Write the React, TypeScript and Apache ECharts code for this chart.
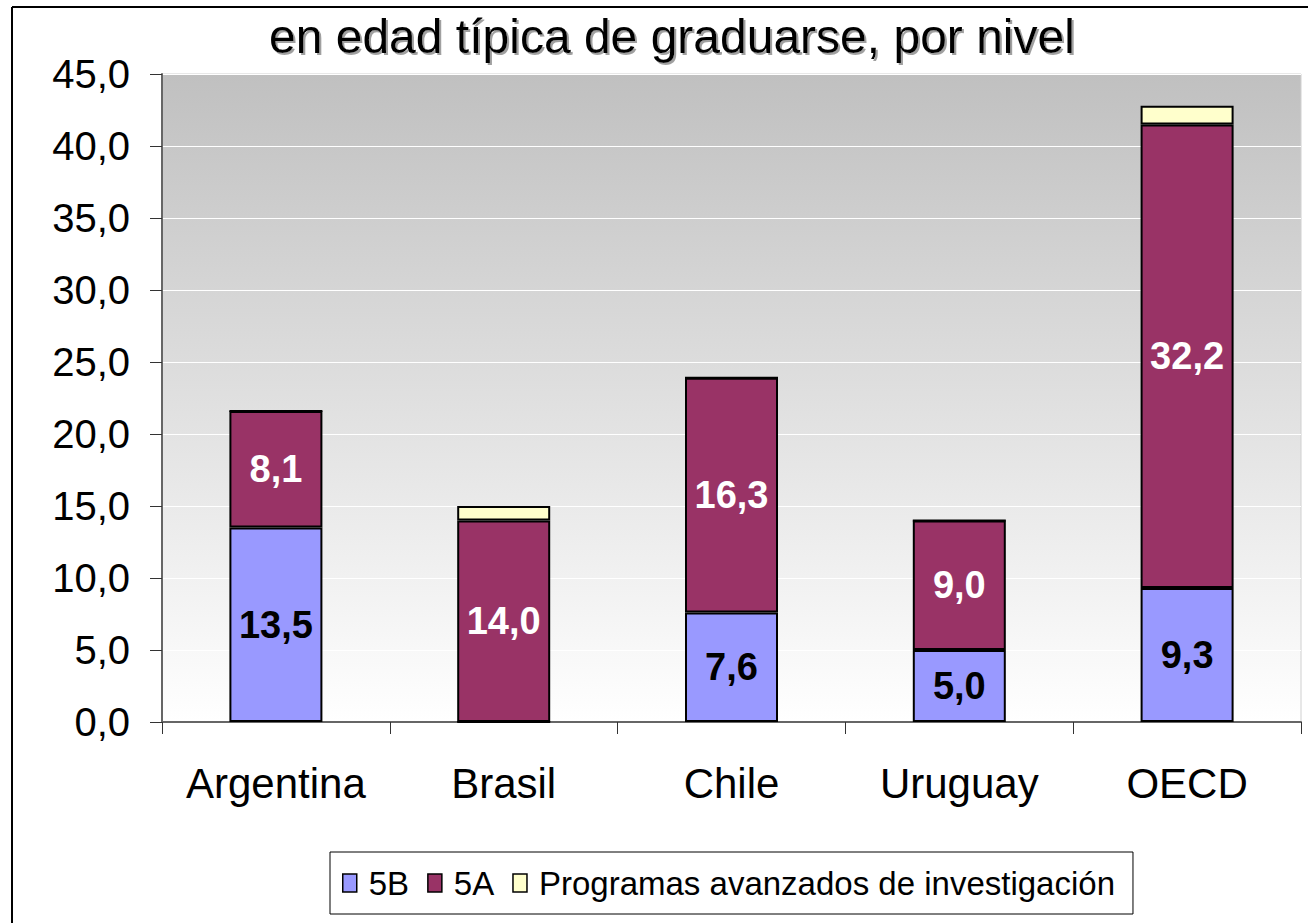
import React, { useEffect, useRef } from "react";
import * as echarts from "echarts";

const categories = ["Argentina", "Brasil", "Chile", "Uruguay", "OECD"];
const values5B = [13.5, 0, 7.6, 5.0, 9.3];
const values5A = [8.1, 14.0, 16.3, 9.0, 32.2];
const valuesAdv = [0, 1.0, 0, 0, 1.3];
const seriesNames = ["5B", "5A", "Programas avanzados de investigación"];
const seriesColors = ["#9999FF", "#993366", "#FFFFCC"];
const titleText = "en edad típica de graduarse, por nivel";

const FONT = "'Liberation Sans', Arial, sans-serif";
const fmt = (v: number) => v.toFixed(1).replace(".", ",");

export default function App() {
  const ref = useRef<HTMLDivElement>(null);
  useEffect(() => {
    if (!ref.current) return;
    const chart = echarts.init(ref.current, undefined, { renderer: "svg" });
    const labelFor = (color: string) => ({
      show: true,
      position: "inside" as const,
      color,
      fontFamily: FONT,
      fontWeight: "bold" as const,
      fontSize: 38,
      formatter: (p: any) => (p.value ? fmt(p.value) : ""),
    });
    chart.setOption({
      animation: false,
      backgroundColor: "#ffffff",
      title: {
        text: titleText,
        left: 264,
        top: 7,
        textStyle: {
          fontFamily: FONT,
          fontSize: 48,
          fontWeight: "normal",
          color: "#000",
          textShadowColor: "#a0a0a0",
          textShadowOffsetX: 2,
          textShadowOffsetY: 2,
          textShadowBlur: 1,
        },
      },
      graphic: [
        { type: "line", shape: { x1: 12, y1: 7, x2: 1308, y2: 7 }, style: { stroke: "#000", lineWidth: 2 }, z: 100 },
        { type: "line", shape: { x1: 12, y1: 7, x2: 12, y2: 923 }, style: { stroke: "#000", lineWidth: 2 }, z: 100 },
      ],
      legend: {
        left: 330,
        top: 852,
        orient: "horizontal",
        data: seriesNames.map((n, i) => ({
          name: n,
          icon: "rect",
          itemStyle: { color: seriesColors[i], borderColor: "#000", borderWidth: 1.5 },
        })),
        itemWidth: 14,
        itemHeight: 18,
        itemGap: 18,
        padding: [14, 18, 14, 12],
        borderColor: "#000",
        borderWidth: 1,
        backgroundColor: "#fff",
        textStyle: {
          fontFamily: FONT,
          fontSize: 33,
          color: "#000",
          lineHeight: 34,
          padding: [0, 0, 0, 7],
        },
      },
      grid: {
        left: 162,
        right: 7,
        top: 74,
        bottom: 201,
        show: true,
        borderColor: "#d0d0d0",
        borderWidth: 1,
        backgroundColor: new echarts.graphic.LinearGradient(0, 0, 0, 1, [
          { offset: 0, color: "#c0c0c0" },
          { offset: 1, color: "#ffffff" },
        ]),
      },
      xAxis: {
        type: "category",
        data: categories,
        axisLine: { lineStyle: { color: "#666", width: 2 } },
        axisTick: { show: true, interval: 0, length: 12, lineStyle: { color: "#333" }, alignWithLabel: false },
        axisLabel: { interval: 0, fontFamily: FONT, fontSize: 42, color: "#000", margin: 40 },
      },
      yAxis: {
        type: "value",
        min: 0,
        max: 45,
        interval: 5,
        axisLine: { show: true, lineStyle: { color: "#666", width: 2 } },
        axisTick: { show: true, length: 12, lineStyle: { color: "#333" } },
        axisLabel: {
          fontFamily: FONT,
          fontSize: 40,
          color: "#000",
          margin: 32,
          formatter: (v: number) => fmt(v),
        },
        splitLine: { show: true, lineStyle: { color: "#ffffff", width: 1 } },
      },
      series: [
        {
          name: seriesNames[0],
          type: "bar",
          stack: "total",
          barWidth: 93,
          data: values5B,
          itemStyle: { color: seriesColors[0], borderColor: "#000", borderWidth: 2 },
          label: labelFor("#000"),
        },
        {
          name: seriesNames[1],
          type: "bar",
          stack: "total",
          barWidth: 93,
          data: values5A,
          itemStyle: { color: seriesColors[1], borderColor: "#000", borderWidth: 2 },
          label: labelFor("#ffffff"),
        },
        {
          name: seriesNames[2],
          type: "bar",
          stack: "total",
          barWidth: 93,
          data: valuesAdv,
          itemStyle: { color: seriesColors[2], borderColor: "#000", borderWidth: 2 },
          label: { show: false },
        },
      ],
    });
    return () => chart.dispose();
  }, []);
  return (
    <div
      ref={ref}
      style={{ position: "absolute", left: 0, top: 0, width: 1308, height: 923 }}
    />
  );
}
